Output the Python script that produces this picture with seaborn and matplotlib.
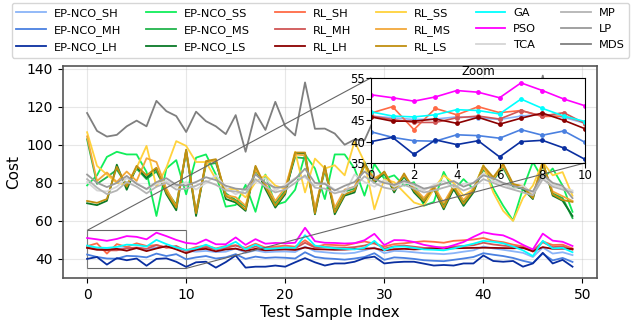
import numpy as np
import pandas as pd
import matplotlib
matplotlib.use("Agg")
import matplotlib.pyplot as plt
import seaborn as sns
from mpl_toolkits.axes_grid1.inset_locator import mark_inset

# --- DATA ---
sample_idx = list(range(50))

methods = ["EP-NCO_SH", "EP-NCO_MH", "EP-NCO_LH", "EP-NCO_SS", "EP-NCO_MS", "EP-NCO_LS",
           "RL_SH", "RL_MH", "RL_LH", "RL_SS", "RL_MS", "RL_LS",
           "GA", "PSO", "TCA", "MP", "LP", "MDS"]

ep_nco_sh = [46.0, 45.6, 45.2, 45.3, 45.8, 45.6, 45.2, 46.0, 46.4, 45.7, 44.3, 43.8, 44.2, 43.6, 43.8, 45.5, 43.2,
             44.5, 43.5, 43.8, 43.9, 43.6, 46.5, 44.0, 43.5, 43.0, 42.8, 43.2, 44.5, 46.0, 43.0, 44.2, 44.0, 43.5,
             43.0, 42.8, 42.5, 43.0, 43.8, 44.5, 46.5, 45.5, 44.8, 44.0, 43.2, 41.0, 46.0, 42.8, 43.5, 42.0]
ep_nco_mh = [42.3, 41.0, 40.2, 40.1, 41.6, 41.4, 40.8, 42.8, 41.5, 42.5, 39.8, 40.8, 41.5, 40.2, 40.8, 42.5, 40.0,
             41.2, 40.5, 40.8, 40.6, 40.2, 43.5, 41.0, 40.3, 40.0, 39.6, 40.2, 41.0, 43.0, 39.5, 40.8, 40.5, 40.0,
             39.3, 39.0, 38.8, 39.5, 40.2, 41.0, 43.0, 42.2, 41.5, 40.5, 39.0, 37.8, 42.8, 39.2, 40.5, 38.4]
ep_nco_lh = [40.0, 41.0, 37.0, 40.4, 39.3, 40.2, 36.4, 40.0, 40.3, 38.5, 35.8, 38.2, 38.5, 35.4, 38.3, 41.8, 35.4,
             35.9, 35.9, 36.5, 35.9, 38.2, 40.4, 38.2, 36.5, 37.6, 37.6, 38.5, 40.4, 41.2, 37.6, 38.2, 38.5, 38.5,
             37.5, 36.5, 36.8, 36.5, 37.6, 37.6, 41.8, 38.9, 38.5, 38.9, 35.9, 37.6, 43.2, 37.6, 39.5, 35.9]
ep_nco_ss = [78.7, 84.0, 93.7, 96.4, 95.0, 95.0, 85.8, 62.6, 87.6, 92.0, 74.0, 93.3, 95.0, 84.4, 67.5, 68.4, 79.0,
             64.8, 84.4, 68.4, 70.0, 76.4, 95.0, 87.6, 71.5, 95.0, 95.0, 87.6, 73.3, 90.0, 82.2, 84.0, 78.6, 80.4,
             68.0, 70.0, 85.8, 76.0, 82.0, 76.8, 89.0, 77.0, 68.0, 60.2, 77.0, 91.0, 82.0, 87.6, 78.6, 64.8]
ep_nco_ms = [103.0, 79.5, 83.0, 87.0, 79.0, 87.5, 82.0, 86.0, 76.0, 68.5, 96.0, 65.0, 89.5, 90.5, 74.5, 71.0, 67.5,
             86.5, 78.5, 69.5, 76.0, 93.5, 93.0, 66.0, 86.5, 66.0, 75.5, 77.0, 89.0, 81.5, 84.5, 77.0, 83.0, 76.5,
             71.5, 77.5, 68.5, 77.0, 70.0, 76.5, 87.0, 81.5, 88.0, 78.0, 77.0, 73.0, 89.5, 74.5, 72.0, 61.5]
ep_nco_ls = [69.3, 68.3, 70.6, 89.6, 76.4, 88.4, 82.6, 87.5, 74.1, 65.6, 97.2, 62.6, 91.0, 91.9, 71.5, 69.7, 65.3,
             88.4, 76.8, 67.0, 74.1, 95.5, 95.5, 63.5, 88.4, 63.5, 73.3, 75.0, 91.0, 80.0, 85.7, 75.0, 84.0, 75.0,
             69.7, 76.8, 66.1, 76.8, 67.9, 75.0, 88.4, 82.2, 89.3, 78.6, 76.8, 71.5, 91.0, 73.3, 70.6, 62.6]
rl_sh = [46.7, 48.2, 42.8, 47.8, 46.3, 48.2, 46.8, 47.3, 45.9, 46.0, 44.5, 46.2, 47.0, 45.5, 46.8, 47.2, 45.8,
         48.0, 46.0, 46.5, 47.0, 46.4, 49.8, 46.2, 47.5, 47.3, 47.0, 48.2, 49.2, 48.0, 46.5, 47.8, 48.2, 48.8,
         49.3, 49.0, 48.5, 49.5, 49.8, 50.2, 51.0, 49.5, 48.8, 47.5, 46.6, 43.8, 49.2, 47.3, 47.5, 45.5]
rl_mh = [46.0, 45.2, 44.5, 44.5, 45.6, 46.0, 45.3, 47.3, 46.0, 46.8, 44.2, 45.0, 46.2, 45.0, 45.8, 47.0, 45.2,
         46.5, 45.3, 45.6, 46.0, 45.6, 48.5, 46.0, 46.3, 46.0, 45.8, 46.2, 47.0, 48.5, 45.4, 46.6, 47.0, 46.4,
         45.8, 45.9, 46.1, 46.5, 46.8, 47.2, 48.5, 47.6, 47.0, 46.5, 46.0, 44.3, 48.8, 46.2, 46.6, 44.8]
rl_lh = [45.8, 44.8, 44.8, 45.3, 44.3, 45.7, 44.1, 45.5, 46.7, 45.0, 43.0, 44.8, 45.3, 44.0, 45.0, 45.4, 44.2,
         45.3, 44.5, 44.8, 45.0, 44.7, 46.0, 45.1, 45.0, 44.8, 44.9, 45.2, 45.4, 45.6, 44.5, 45.1, 45.3, 45.0,
         45.2, 45.4, 45.5, 45.6, 45.7, 45.8, 45.9, 45.8, 45.7, 45.6, 45.8, 44.0, 46.2, 45.3, 45.4, 45.2]
rl_ss = [106.7, 89.0, 84.4, 80.0, 79.0, 88.0, 99.5, 78.0, 88.0, 102.0, 99.5, 91.0, 91.0, 82.0, 76.8, 76.8, 72.4,
         80.4, 84.0, 78.6, 76.8, 96.4, 75.0, 92.8, 87.6, 89.3, 84.0, 101.8, 91.0, 66.1, 82.0, 80.4, 75.0, 69.7,
         68.0, 76.8, 84.0, 80.0, 73.3, 76.8, 89.3, 75.0, 65.3, 60.0, 72.0, 78.6, 91.0, 84.0, 85.7, 73.3]
rl_ms = [104.5, 81.0, 85.5, 80.5, 86.0, 81.0, 93.0, 91.0, 77.0, 67.5, 97.0, 64.5, 90.5, 92.0, 73.5, 72.5, 68.0,
         87.0, 79.5, 70.5, 77.5, 95.0, 94.5, 66.5, 87.5, 67.0, 76.5, 78.0, 89.5, 82.5, 85.5, 78.0, 84.0, 77.5,
         72.0, 78.5, 69.5, 78.5, 71.0, 77.0, 88.0, 82.0, 89.0, 79.0, 78.5, 74.0, 90.0, 75.5, 73.0, 70.5]
rl_ls = [70.5, 69.5, 71.5, 88.5, 78.0, 89.0, 84.0, 88.0, 75.0, 67.0, 97.5, 64.0, 91.5, 92.5, 73.0, 70.5, 66.0,
         89.0, 78.0, 68.0, 75.0, 96.0, 96.0, 64.0, 89.0, 64.5, 74.0, 76.0, 90.0, 81.0, 86.0, 76.0, 85.0, 76.0,
         70.5, 77.5, 67.0, 78.0, 69.0, 76.0, 89.0, 83.0, 90.0, 79.5, 78.0, 72.0, 91.0, 74.0, 71.0, 70.0]
ga = [47.0, 46.0, 45.8, 46.3, 47.5, 47.3, 46.5, 50.0, 47.8, 46.0, 44.7, 45.5, 47.5, 45.2, 46.5, 49.0, 45.0,
      47.5, 45.2, 45.5, 46.0, 45.8, 52.5, 47.0, 46.2, 45.6, 45.3, 45.0, 45.8, 49.5, 44.6, 46.4, 46.5, 45.8,
      45.0, 44.8, 44.5, 45.5, 46.8, 48.0, 49.5, 49.0, 48.2, 46.5, 44.5, 41.5, 49.5, 45.5, 45.8, 43.5]
pso = [51.0, 50.3, 49.5, 50.5, 52.0, 51.6, 50.3, 53.8, 52.0, 50.0, 48.4, 47.9, 50.2, 47.7, 47.7, 51.3, 47.4,
       50.4, 48.0, 48.4, 48.2, 48.5, 56.4, 49.3, 48.5, 48.4, 48.1, 48.3, 49.8, 53.2, 47.3, 49.9, 49.8, 48.9,
       47.4, 46.5, 45.7, 47.2, 48.9, 51.6, 54.0, 53.0, 52.4, 50.2, 47.4, 45.0, 53.3, 49.6, 49.0, 46.8]
tca = [80.5, 76.0, 75.5, 78.0, 82.5, 80.0, 76.5, 79.5, 81.0, 78.0, 80.5, 76.5, 80.0, 84.0, 77.5, 74.0, 76.5,
       80.5, 82.5, 76.0, 79.0, 82.5, 83.0, 78.5, 80.0, 76.5, 74.5, 84.5, 80.5, 78.0, 81.5, 78.0, 80.5, 78.5,
       76.0, 79.0, 81.0, 77.5, 79.5, 80.0, 85.0, 81.0, 79.5, 77.0, 78.5, 74.5, 83.5, 79.0, 77.5, 76.0]
mp = [82.0, 77.5, 74.1, 76.0, 80.5, 78.0, 74.5, 78.0, 80.0, 76.5, 77.0, 78.5, 81.0, 79.0, 76.0, 75.5, 74.5,
      82.0, 78.0, 75.0, 76.5, 80.0, 84.0, 77.5, 77.0, 74.5, 76.0, 78.0, 83.5, 80.0, 77.5, 76.5, 79.0, 77.0,
      75.0, 76.0, 77.5, 79.0, 76.0, 78.0, 82.0, 80.0, 78.0, 76.5, 75.0, 73.5, 82.0, 78.0, 76.5, 75.0]
lp = [84.4, 80.1, 77.8, 80.0, 83.7, 79.5, 76.8, 80.4, 82.5, 79.0, 78.6, 80.5, 83.0, 81.5, 78.5, 77.0, 76.5,
      84.5, 80.0, 77.5, 78.0, 82.0, 87.5, 80.0, 79.5, 76.0, 78.5, 80.5, 86.0, 82.0, 80.0, 79.0, 81.0, 79.5,
      77.0, 78.0, 79.5, 81.0, 78.0, 80.0, 84.0, 82.5, 80.0, 78.5, 77.0, 75.5, 84.5, 80.0, 78.5, 72.0]
mds = [116.8, 107.4, 104.4, 105.3, 109.8, 112.8, 109.8, 123.2, 117.8, 115.2, 106.8, 117.5, 112.5, 109.8, 105.7,
       115.7, 96.4, 116.8, 107.9, 122.7, 109.8, 105.0, 132.9, 108.5, 108.6, 106.0, 100.1, 102.8, 102.4, 114.0,
       108.5, 111.0, 106.0, 112.5, 104.5, 109.0, 115.0, 107.0, 110.5, 104.0, 113.0, 108.0, 118.0, 110.0, 106.5,
       112.0, 136.5, 109.0, 111.5, 106.0]

series = [ep_nco_sh, ep_nco_mh, ep_nco_lh, ep_nco_ss, ep_nco_ms, ep_nco_ls,
          rl_sh, rl_mh, rl_lh, rl_ss, rl_ms, rl_ls, ga, pso, tca, mp, lp, mds]

colors = ["#8ab4f8", "#4a80e0", "#0a2fa0", "#10ee5a", "#22b44c", "#0a7a28",
          "#ff6a45", "#d05555", "#8b0000", "#ffd23c", "#f2a83a", "#c08f10",
          "#00ffff", "#ff00ff", "#d6d6d6", "#b4b4b4", "#9a9a9a", "#7f7f7f"]
palette = dict(zip(methods, colors))

df = pd.DataFrame({
    "idx": np.tile(sample_idx, len(methods)),
    "cost": np.concatenate(series),
    "method": np.repeat(methods, len(sample_idx)),
})

# --- FIGURE ---
fig = plt.figure(figsize=(6.41, 3.2), dpi=100)
ax = fig.add_axes([0.098, 0.131, 0.833, 0.663])

sns.lineplot(data=df, x="idx", y="cost", hue="method", hue_order=methods,
             palette=palette, linewidth=1.3, ax=ax)
ax.set_xlabel("Test Sample Index", fontsize=11, labelpad=2)
ax.set_ylabel("Cost", fontsize=11)
ax.tick_params(labelsize=10)
ax.set_ylim(29.9, 141.6)
ax.grid(True, alpha=0.3)
for s in ax.spines.values():
    s.set_color("#555555")
    s.set_linewidth(1.2)

# legend above the plot, spanning nearly the whole figure width
sns.move_legend(ax, "upper center", bbox_to_anchor=(0.5, 0.99), bbox_transform=fig.transFigure,
                ncol=6, title=None, fontsize=8.2, frameon=True, handlelength=2.6,
                handletextpad=0.7, columnspacing=2.2, labelspacing=0.55,
                borderaxespad=0.0, borderpad=0.4)

# --- ZOOM INSET ---
axins = fig.add_axes([0.579, 0.491, 0.334, 0.266])
sns.lineplot(data=df, x="idx", y="cost", hue="method", hue_order=methods,
             palette=palette, linewidth=1.2, marker="o", markersize=3.5,
             markeredgewidth=0, legend=False, ax=axins)
axins.set_xlim(0, 10)
axins.set_ylim(35, 55)
axins.set_yticks([35, 40, 45, 50, 55])
axins.set_xticks([0, 2, 4, 6, 8, 10])
axins.set_xlabel("")
axins.set_ylabel("")
axins.set_title("Zoom", fontsize=8.5, pad=2)
axins.tick_params(labelsize=8.5, pad=1)
mark_inset(ax, axins, loc1=2, loc2=4, fc="none", ec="0.4", lw=0.8)

fig.savefig("out.png", dpi=100)
